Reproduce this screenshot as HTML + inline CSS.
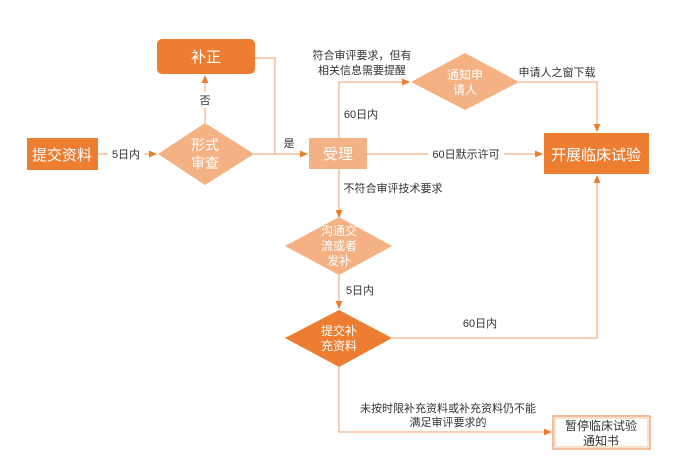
<!DOCTYPE html>
<html><head><meta charset="utf-8"><style>
body{margin:0;background:#fff;width:684px;height:457px;overflow:hidden}
svg text{font-family:"Liberation Sans","Noto Sans CJK SC",sans-serif}
</style></head><body>
<svg width="684" height="457" viewBox="0 0 684 457">
<defs><marker id="a" markerWidth="8" markerHeight="8" refX="7" refY="4" orient="auto" markerUnits="userSpaceOnUse"><path d="M0,0.5 L8,4 L0,7.5z" fill="#ED7D31"/></marker></defs>
<g stroke="#F4B183" stroke-width="1.3" fill="none">
<path d="M98,154 H156" marker-end="url(#a)"/>
<path d="M205,123 V76" marker-end="url(#a)"/>
<path d="M255,58 H275 V154"/>
<path d="M254,154 H307" marker-end="url(#a)"/>
<path d="M367,154 H542" marker-end="url(#a)"/>
<path d="M339,138 V82 H409" marker-end="url(#a)"/>
<path d="M519,82 H597 V131" marker-end="url(#a)"/>
<path d="M339,169 V217" marker-end="url(#a)"/>
<path d="M339,275 V308" marker-end="url(#a)"/>
<path d="M392,338 H597 V176" marker-end="url(#a)"/>
<path d="M339,367 V432 H551" marker-end="url(#a)"/>
</g>
<g font-size="11" fill="#333" text-anchor="middle">
<rect x="108" y="146" width="36" height="16" fill="#fff"/>
<text x="126" y="158">5日内</text>
<rect x="196" y="92" width="18" height="16" fill="#fff"/>
<text x="205" y="104">否</text>
<text x="289" y="147">是</text>
<rect x="428" y="146" width="76" height="16" fill="#fff"/>
<text x="466" y="158">60日默示许可</text>
<text x="362" y="59">符合审评要求，但有</text>
<text x="362" y="74">相关信息需要提醒</text>
<text x="557" y="76">申请人之窗下载</text>
<text x="361" y="118">60日内</text>
<text x="393" y="192">不符合审评技术要求</text>
<text x="360" y="294">5日内</text>
<text x="480" y="327">60日内</text>
<text x="448" y="412">未按时限补充资料或补充资料仍不能</text>
<text x="448" y="426">满足审评要求的</text>
</g>
<rect x="27" y="138" width="71" height="32" fill="#ED7D31"/>
<text x="62" y="160" font-size="15" fill="#fff" text-anchor="middle">提交资料</text>
<rect x="157" y="39" width="98" height="35" rx="5" fill="#ED7D31"/>
<text x="206" y="62" font-size="15" fill="#fff" text-anchor="middle">补正</text>
<path d="M158,154 L205,123 L254,154 L205,185z" fill="#F4B183"/>
<text x="205" y="150" font-size="14" fill="#fff" text-anchor="middle">形式</text>
<text x="205" y="168" font-size="14" fill="#fff" text-anchor="middle">审查</text>
<rect x="309" y="138" width="58" height="31" fill="#F4B183"/>
<text x="338" y="159" font-size="15" fill="#fff" text-anchor="middle">受理</text>
<rect x="544" y="133" width="105" height="41" fill="#ED7D31"/>
<text x="596" y="160" font-size="15" fill="#fff" text-anchor="middle">开展临床试验</text>
<path d="M411,82 L465,53 L519,82 L465,110z" fill="#F4B183"/>
<text x="465" y="79" font-size="12" fill="#fff" text-anchor="middle">通知申</text>
<text x="465" y="94" font-size="12" fill="#fff" text-anchor="middle">请人</text>
<path d="M285,246 L339,217 L392,246 L339,275z" fill="#F4B183"/>
<text x="339" y="235" font-size="12" fill="#fff" text-anchor="middle">沟通交</text>
<text x="339" y="250" font-size="12" fill="#fff" text-anchor="middle">流或者</text>
<text x="339" y="265" font-size="12" fill="#fff" text-anchor="middle">发补</text>
<path d="M285,338 L339,310 L392,338 L339,367z" fill="#ED7D31"/>
<text x="339" y="335" font-size="12" fill="#fff" text-anchor="middle">提交补</text>
<text x="339" y="350" font-size="12" fill="#fff" text-anchor="middle">充资料</text>
<rect x="553" y="416" width="97" height="33" fill="#fff" stroke="#ED7D31" stroke-width="1"/>
<rect x="555" y="418" width="93" height="29" fill="none" stroke="#F4B183" stroke-width="0.8"/>
<text x="601" y="430" font-size="12" fill="#333" text-anchor="middle">暂停临床试验</text>
<text x="601" y="445" font-size="12" fill="#333" text-anchor="middle">通知书</text>
</svg>
</body></html>
